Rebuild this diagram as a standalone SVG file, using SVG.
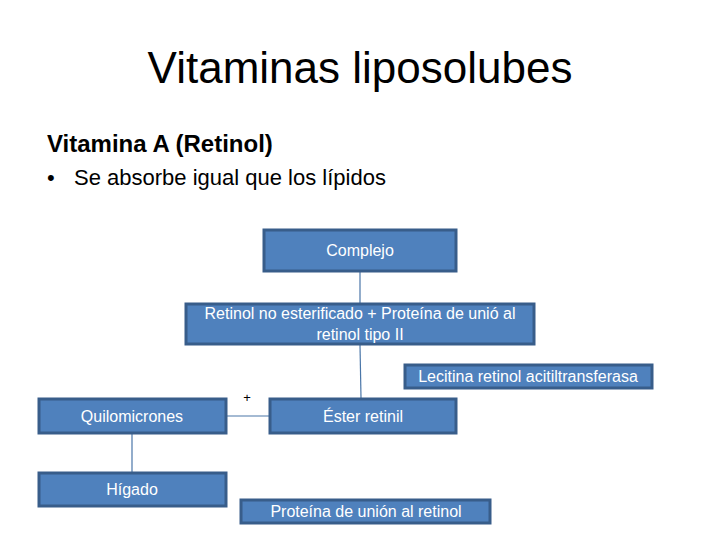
<svg xmlns="http://www.w3.org/2000/svg" width="720" height="540" viewBox="0 0 720 540">
<style>
.box{fill:#4f81bd;stroke:#385d8a;stroke-width:3}
.bt{font-family:"Liberation Sans",Arial,sans-serif;font-size:16px;fill:#ffffff;text-anchor:middle}
.con{stroke:#4a76a8;stroke-width:1.2;fill:none}
</style>
<rect width="720" height="540" fill="#ffffff"/>
<text x="360" y="83" font-family="Liberation Sans,Arial,sans-serif" font-size="44" text-anchor="middle" fill="#000">Vitaminas liposolubes</text>
<text x="47" y="152" font-family="Liberation Sans,Arial,sans-serif" font-size="24" font-weight="bold" fill="#000">Vitamina A (Retinol)</text>
<text x="47" y="185" font-family="Liberation Sans,Arial,sans-serif" font-size="22" fill="#000">•</text>
<text x="74" y="185" font-family="Liberation Sans,Arial,sans-serif" font-size="22" fill="#000">Se absorbe igual que los lípidos</text>
<g id="connectors">
<line class="con" x1="360" y1="272" x2="360" y2="303"/>
<line class="con" x1="360" y1="345" x2="361" y2="398"/>
<line class="con" x1="227" y1="416" x2="269" y2="416"/>
<line class="con" x1="132" y1="434" x2="132" y2="472"/>
</g>
<text x="247" y="402" font-family="Liberation Sans,Arial,sans-serif" font-size="13" text-anchor="middle" fill="#000">+</text>
<g id="complejo"><rect class="box" x="264" y="230" width="192" height="41"/><text class="bt" x="360" y="256">Complejo</text></g>
<g id="retinol"><rect class="box" x="186" y="304" width="348" height="40"/><text class="bt" x="360" y="319">Retinol no esterificado + Proteína de unió al</text><text class="bt" x="360" y="340">retinol tipo II</text></g>
<g id="lecitina"><rect class="box" x="405" y="365" width="247" height="23"/><text class="bt" x="528" y="382">Lecitina retinol acitiltransferasa</text></g>
<g id="quilomicrones"><rect class="box" x="39" y="399" width="187" height="34"/><text class="bt" x="132" y="422">Quilomicrones</text></g>
<g id="ester"><rect class="box" x="270" y="399" width="186" height="34"/><text class="bt" x="363" y="422">Éster retinil</text></g>
<g id="higado"><rect class="box" x="39" y="473" width="187" height="33"/><text class="bt" x="132" y="495">Hígado</text></g>
<g id="proteina"><rect class="box" x="241" y="500" width="249" height="23"/><text class="bt" x="366" y="517">Proteína de unión al retinol</text></g>
</svg>
